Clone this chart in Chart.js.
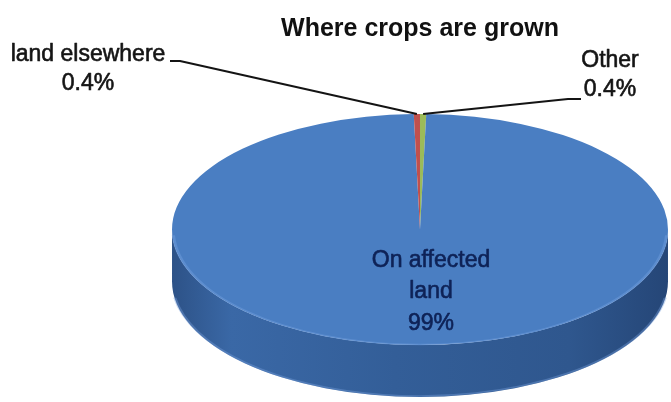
<!DOCTYPE html>
<html>
<head>
<meta charset="utf-8">
<script src="https://cdn.jsdelivr.net/npm/chart.js@4.4.1/dist/chart.umd.min.js"></script>
<style>
  html, body { margin: 0; padding: 0; background: #fff; }
  #wrap { width: 671px; height: 402px; position: relative; }
</style>
</head>
<body>
<div id="wrap"><canvas id="crops-chart"></canvas></div>
<script>
const chartTitle = 'Where crops are grown';
const categories = ['Other', 'On affected land', 'land elsewhere'];
const shares = [0.4, 99, 0.4];
const sliceColors = ['#9bbb59', '#4a7ec2', '#c0504d'];
// how each category name is broken over lines in its label
const labelLines = [['Other'], ['On affected', 'land'], ['land elsewhere']];

const pieStretch = 2.147;   // width / height of the tilted top face
const pieDepth = 52;        // thickness of the disc in px
const labelFont = '23px "Liberation Sans", Arial, sans-serif';

function arcGeom(chart) {
    const arcs = chart.getDatasetMeta(0).data;
    const { x, y, outerRadius } = arcs[0].getProps(['x', 'y', 'outerRadius'], true);
    return { arcs, x, y, r: outerRadius };
}

// squash the flat pie into a tilted disc and give it a side wall
const tiltPlugin = {
    id: 'tilt',
    beforeDatasetsDraw(chart) {
        const ctx = chart.ctx;
        const { arcs, x, y, r } = arcGeom(chart);
        ctx.save();
        ctx.translate(x, 0);
        ctx.scale(pieStretch, 1);
        ctx.translate(-x, 0);

        const side = ctx.createLinearGradient(x - r, 0, x + r, 0);
        side.addColorStop(0, '#2d5287');
        side.addColorStop(0.12, '#3a68a6');
        side.addColorStop(0.45, '#335e98');
        side.addColorStop(0.8, '#2f578e');
        side.addColorStop(1, '#254677');

        arcs.forEach((arc, i) => {
            const { startAngle, endAngle } = arc.getProps(['startAngle', 'endAngle'], true);
            const lo = Math.max(startAngle, 0);
            const hi = Math.min(endAngle, Math.PI);
            if (hi <= lo) return;
            ctx.beginPath();
            ctx.arc(x, y, r, lo, hi);
            ctx.arc(x, y + pieDepth, r, hi, lo, true);
            ctx.closePath();
            ctx.fillStyle = i === 1 ? side : sliceColors[i];
            ctx.fill();
        });

        // faint light rim along the bottom edge
        ctx.beginPath();
        ctx.arc(x, y + pieDepth - 1, r, 0.15, Math.PI - 0.15);
        ctx.lineWidth = 1.5;
        ctx.strokeStyle = 'rgba(120,160,220,0.4)';
        ctx.stroke();
    },
    afterDatasetsDraw(chart) {
        const ctx = chart.ctx;
        const { x, y, r } = arcGeom(chart);
        // lighter rim where the top face meets the wall
        ctx.beginPath();
        ctx.arc(x, y, r - 0.5, 0.05, Math.PI - 0.05);
        ctx.lineWidth = 1.5;
        ctx.strokeStyle = 'rgba(110,155,220,0.5)';
        ctx.stroke();
        ctx.restore();
    }
};

// text with a hairline outline so it reads a little heavier
function heavyText(ctx, t, x, y) {
    ctx.strokeText(t, x, y);
    ctx.fillText(t, x, y);
}

// data labels with leader lines
const labelPlugin = {
    id: 'pieLabels',
    afterDraw(chart) {
        const ctx = chart.ctx;
        const { arcs, x, y, r } = arcGeom(chart);
        const edgePoint = (i, f) => {
            const { startAngle, endAngle } = arcs[i].getProps(['startAngle', 'endAngle'], true);
            const mid = (startAngle + endAngle) / 2;
            return [x + pieStretch * r * f * Math.cos(mid), y + r * f * Math.sin(mid)];
        };
        const pct = i => shares[i] + '%';

        ctx.save();
        ctx.font = labelFont;
        ctx.textAlign = 'center';
        ctx.textBaseline = 'alphabetic';
        ctx.lineJoin = 'round';
        ctx.strokeStyle = '#141414';

        // land elsewhere (left)
        let [ax, ay] = edgePoint(2, 1);
        ctx.lineWidth = 2;
        ctx.beginPath();
        ctx.moveTo(ax, ay);
        ctx.lineTo(180, 61);
        ctx.lineTo(170, 61);
        ctx.stroke();

        // Other (right)
        [ax, ay] = edgePoint(0, 1);
        ctx.beginPath();
        ctx.moveTo(ax, ay);
        ctx.lineTo(568, 99);
        ctx.lineTo(581, 99);
        ctx.stroke();

        ctx.lineWidth = 0.6;
        ctx.fillStyle = '#141414';
        heavyText(ctx, labelLines[2][0], 88, 61);
        heavyText(ctx, pct(2), 88, 90);
        heavyText(ctx, labelLines[0][0], 610, 67);
        heavyText(ctx, pct(0), 610, 96);

        // On affected land (inside the big slice)
        const [ix, iy] = edgePoint(1, 0.52);
        ctx.fillStyle = '#0e2256';
        ctx.strokeStyle = '#0e2256';
        const lines = labelLines[1].concat([Math.round(shares[1]) + '%']);
        lines.forEach((t, k) => heavyText(ctx, t, ix + 11, iy - 23 + k * 31.5));
        ctx.restore();
    }
};

new Chart(document.getElementById('crops-chart'), {
    type: 'pie',
    data: {
        labels: categories,
        datasets: [{
            data: shares,
            backgroundColor: sliceColors,
            borderWidth: 0,
            hoverOffset: 0
        }]
    },
    options: {
        responsive: true,
        maintainAspectRatio: false,
        animation: false,
        events: [],
        layout: { padding: { left: 169, right: 0, top: 4, bottom: 57 } },
        plugins: {
            legend: { display: false },
            tooltip: { enabled: false },
            title: {
                display: true,
                text: chartTitle,
                color: '#111',
                font: { family: '"Liberation Sans", Arial, sans-serif', size: 25, weight: 'bold', lineHeight: 1.2 },
                padding: { top: 10, bottom: 70 }
            }
        }
    },
    plugins: [tiltPlugin, labelPlugin]
});
</script>
</body>
</html>
